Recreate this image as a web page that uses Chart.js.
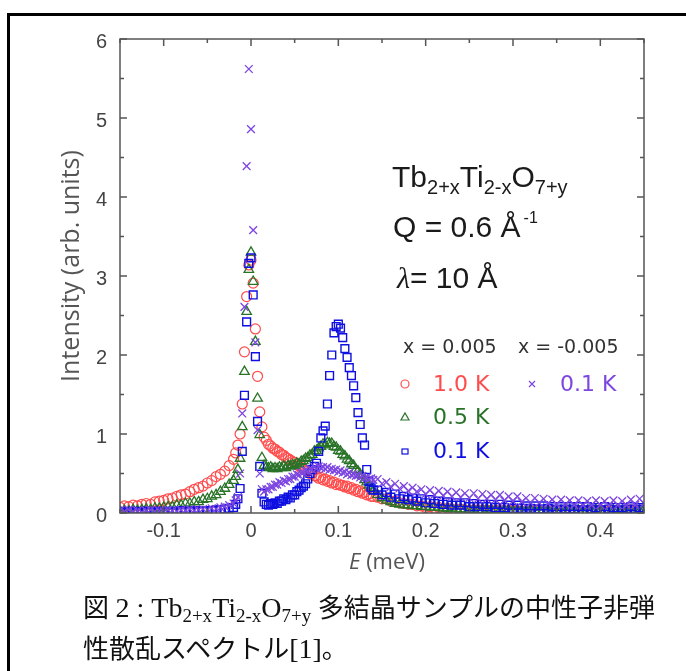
<!DOCTYPE html>
<html>
<head>
<meta charset="utf-8">
<script src="https://cdn.jsdelivr.net/npm/chart.js@4.4.0/dist/chart.umd.min.js"></script>
<style>
  html, body { margin: 0; padding: 0; background: #fff; }
  body { width: 686px; height: 671px; position: relative; overflow: hidden; }
  #frame { position: absolute; left: 7px; top: 13px; width: 760px; height: 760px;
           border-left: 3px solid #000; border-top: 3px solid #000; }
  #wrap { position: absolute; left: 0; top: 0; width: 686px; height: 600px; }
  #cap { position: absolute; left: 83px; top: 588px; color: #111;
         font: 26px/40px "Liberation Serif", "Noto Sans CJK JP", serif; white-space: nowrap; }
  #cap .lat { font-size: 28px; }
  #cap sub { font-size: 19px; line-height: 0; vertical-align: -5px; }
</style>
</head>
<body>
<div id="frame"></div>
<div id="wrap"><canvas id="myChart" width="686" height="600"></canvas></div>
<div id="cap">図 <span class="lat">2 : Tb<sub>2+x</sub>Ti<sub>2-x</sub>O<sub>7+y</sub></span> 多結晶サンプルの中性子非弾<br>性散乱スペクトル<span class="lat">[1]</span>。</div>
<script>
// energy transfer (meV)
const E = [
  -0.15, -0.145, -0.14, -0.135, -0.13, -0.125, -0.12, -0.115, -0.11, -0.105,
  -0.1, -0.095, -0.09, -0.085, -0.08, -0.075, -0.07, -0.065, -0.06, -0.055,
  -0.05, -0.045, -0.04, -0.035, -0.03, -0.025,
  -0.02, -0.0175, -0.015, -0.0125, -0.01, -0.0075, -0.005, -0.0025, 0, 0.0025,
  0.005, 0.0075, 0.01, 0.0125, 0.015, 0.0175, 0.02, 0.0225, 0.025, 0.0275,
  0.03, 0.0325, 0.035, 0.0375, 0.04, 0.0425, 0.045, 0.0475, 0.05, 0.0525,
  0.055, 0.0575, 0.06, 0.0625, 0.065, 0.0675, 0.07, 0.0725, 0.075, 0.0775,
  0.08, 0.0825, 0.085, 0.0875, 0.09, 0.0925, 0.095, 0.0975, 0.1, 0.1025,
  0.105, 0.1075, 0.11, 0.1125, 0.115, 0.1175, 0.12, 0.1225, 0.125, 0.1275,
  0.13, 0.1325, 0.135, 0.1375, 0.14,
  0.145, 0.15, 0.155, 0.16, 0.165, 0.17, 0.175, 0.18, 0.185, 0.19,
  0.195, 0.2, 0.205, 0.21, 0.215, 0.22, 0.225, 0.23, 0.235, 0.24,
  0.245, 0.25, 0.255, 0.26, 0.265, 0.27, 0.275, 0.28, 0.285, 0.29,
  0.295, 0.3, 0.305, 0.31, 0.315, 0.32, 0.325, 0.33, 0.335, 0.34,
  0.345, 0.35, 0.355, 0.36, 0.365, 0.37, 0.375, 0.38, 0.385, 0.39,
  0.395, 0.4, 0.405, 0.41, 0.415, 0.42, 0.425, 0.43, 0.435, 0.44,
  0.445, 0.45
];

// x = 0.005, 1.0 K
const red10K = [
  0.07, 0.09, 0.08, 0.10, 0.09, 0.11, 0.12, 0.11, 0.14, 0.15,
  0.16, 0.18, 0.19, 0.21, 0.23, 0.24, 0.27, 0.30, 0.32, 0.34,
  0.38, 0.41, 0.46, 0.49, 0.53, 0.60,
  0.68, 0.76, 0.86, 1.00, 1.38, 2.04, 2.74, 3.14, 3.20, 2.91,
  2.33, 1.73, 1.28, 1.09, 0.96, 0.92, 0.87, 0.85, 0.82, 0.81,
  0.78, 0.77, 0.74, 0.73, 0.70, 0.69, 0.67, 0.65, 0.64, 0.61,
  0.60, 0.57, 0.56, 0.54, 0.53, 0.50, 0.50, 0.47, 0.47, 0.44,
  0.45, 0.42, 0.43, 0.40, 0.41, 0.38, 0.39, 0.36, 0.37, 0.35,
  0.35, 0.33, 0.34, 0.31, 0.32, 0.29, 0.30, 0.27, 0.28, 0.25,
  0.26, 0.23, 0.24, 0.21, 0.21,
  0.20, 0.18, 0.18, 0.15, 0.15, 0.13, 0.12, 0.11, 0.11, 0.09,
  0.09, 0.07, 0.08, 0.06, 0.07, 0.05, 0.06, 0.05, 0.04, 0.05,
  0.04, 0.03, 0.04, 0.04, 0.03, 0.04, 0.03, 0.03, 0.04, 0.03,
  0.03, 0.04, 0.03, 0.02, 0.03, 0.03, 0.04, 0.03, 0.02, 0.03,
  0.03, 0.02, 0.03, 0.04, 0.03, 0.02, 0.03, 0.03, 0.02, 0.03,
  0.03, 0.04, 0.03, 0.02, 0.03, 0.03, 0.02, 0.03, 0.04, 0.03,
  0.03, 0.04
];

// x = 0.005, 0.5 K
const green05K = [
  0.02, 0.03, 0.02, 0.04, 0.03, 0.04, 0.05, 0.04, 0.06, 0.06,
  0.07, 0.08, 0.08, 0.10, 0.10, 0.12, 0.12, 0.14, 0.14, 0.17,
  0.18, 0.21, 0.23, 0.27, 0.31, 0.36,
  0.41, 0.46, 0.55, 0.69, 1.09, 1.79, 2.55, 3.08, 3.30, 2.93,
  2.17, 1.45, 0.99, 0.70, 0.60, 0.58, 0.57, 0.58, 0.56, 0.57,
  0.56, 0.58, 0.57, 0.59, 0.57, 0.60, 0.59, 0.61, 0.60, 0.63,
  0.62, 0.65, 0.66, 0.69, 0.70, 0.73, 0.74, 0.78, 0.79, 0.82,
  0.84, 0.87, 0.86, 0.89, 0.88, 0.88, 0.84, 0.83, 0.79, 0.78,
  0.74, 0.72, 0.68, 0.66, 0.62, 0.60, 0.55, 0.53, 0.49, 0.47,
  0.42, 0.39, 0.35, 0.32, 0.28,
  0.23, 0.19, 0.16, 0.14, 0.12, 0.11, 0.10, 0.10, 0.09, 0.09,
  0.08, 0.08, 0.07, 0.07, 0.07, 0.06, 0.06, 0.06, 0.05, 0.05,
  0.05, 0.04, 0.05, 0.04, 0.04, 0.05, 0.04, 0.04, 0.03, 0.04,
  0.04, 0.03, 0.04, 0.03, 0.03, 0.04, 0.03, 0.03, 0.04, 0.03,
  0.03, 0.02, 0.03, 0.03, 0.04, 0.03, 0.03, 0.02, 0.03, 0.03,
  0.04, 0.03, 0.02, 0.03, 0.03, 0.04, 0.03, 0.03, 0.02, 0.03,
  0.03, 0.04
];

// x = 0.005, 0.1 K
const blue01K = [
  0.02, 0.01, 0.02, 0.02, 0.01, 0.02, 0.02, 0.01, 0.02, 0.02,
  0.02, 0.01, 0.02, 0.02, 0.03, 0.02, 0.02, 0.03, 0.02, 0.03,
  0.03, 0.03, 0.04, 0.04, 0.05, 0.06,
  0.07, 0.11, 0.18, 0.31, 0.78, 1.49, 2.42, 3.16, 3.23, 2.76,
  1.98, 1.16, 0.59, 0.25, 0.14, 0.11, 0.10, 0.12, 0.11, 0.13,
  0.12, 0.15, 0.15, 0.18, 0.17, 0.20, 0.19, 0.23, 0.23, 0.27,
  0.29, 0.32, 0.34, 0.37, 0.43, 0.50, 0.55, 0.59, 0.63, 0.78,
  0.95, 1.04, 1.10, 1.38, 1.74, 2.00, 2.28, 2.36, 2.39, 2.34,
  2.22, 2.08, 1.97, 1.84, 1.74, 1.61, 1.46, 1.27, 1.12, 0.95,
  0.86, 0.55, 0.40, 0.32, 0.29,
  0.29, 0.23, 0.26, 0.20, 0.24, 0.18, 0.21, 0.17, 0.19, 0.15,
  0.18, 0.13, 0.17, 0.12, 0.15, 0.11, 0.14, 0.10, 0.13, 0.10,
  0.13, 0.08, 0.12, 0.08, 0.11, 0.08, 0.11, 0.07, 0.11, 0.07,
  0.10, 0.06, 0.10, 0.06, 0.09, 0.06, 0.09, 0.05, 0.09, 0.06,
  0.08, 0.05, 0.08, 0.05, 0.08, 0.05, 0.08, 0.04, 0.08, 0.05,
  0.07, 0.04, 0.08, 0.05, 0.07, 0.04, 0.07, 0.05, 0.08, 0.05,
  0.07, 0.05
];

// x = -0.005, 0.1 K
const purple01K = [
  0.03, 0.02, 0.04, 0.02, 0.03, 0.01, 0.03, 0.04, 0.02, 0.03,
  0.02, 0.04, 0.03, 0.02, 0.04, 0.03, 0.05, 0.03, 0.04, 0.05,
  0.04, 0.06, 0.05, 0.07, 0.08, 0.10,
  0.12, 0.16, 0.20, 0.50, 1.26, 2.61, 4.39, 5.62, 4.86, 3.58,
  2.16, 1.05, 0.50, 0.30, 0.27, 0.30, 0.30, 0.33, 0.33, 0.36,
  0.36, 0.39, 0.38, 0.41, 0.40, 0.43, 0.43, 0.46, 0.46, 0.49,
  0.48, 0.51, 0.51, 0.54, 0.53, 0.56, 0.55, 0.58, 0.56, 0.59,
  0.57, 0.58, 0.56, 0.58, 0.55, 0.56, 0.54, 0.55, 0.52, 0.54,
  0.51, 0.52, 0.49, 0.51, 0.48, 0.49, 0.47, 0.48, 0.45, 0.47,
  0.44, 0.45, 0.43, 0.44, 0.42,
  0.43, 0.37, 0.39, 0.33, 0.37, 0.31, 0.34, 0.28, 0.32, 0.27,
  0.30, 0.24, 0.29, 0.23, 0.28, 0.22, 0.27, 0.21, 0.26, 0.20,
  0.25, 0.19, 0.25, 0.18, 0.24, 0.18, 0.23, 0.17, 0.23, 0.16,
  0.21, 0.15, 0.21, 0.14, 0.19, 0.13, 0.19, 0.13, 0.18, 0.12,
  0.17, 0.11, 0.17, 0.11, 0.16, 0.10, 0.16, 0.10, 0.15, 0.10,
  0.16, 0.10, 0.15, 0.09, 0.16, 0.10, 0.15, 0.10, 0.17, 0.10,
  0.18, 0.12
];

const xTicks = [-0.1, 0, 0.1, 0.2, 0.3, 0.4];
const xMinorTicks = [-0.15, -0.05, 0.05, 0.15, 0.25, 0.35, 0.45];
const yTicks = [0, 1, 2, 3, 4, 5, 6];
const yMinorTicks = [0.5, 1.5, 2.5, 3.5, 4.5, 5.5];

const C_RED = 'rgb(255,75,75)', C_GREEN = 'rgb(40,115,40)',
      C_BLUE = 'rgb(15,15,225)', C_PURPLE = 'rgb(125,70,225)';

function pts(vals) { return E.map((e, i) => ({ x: e, y: vals[i] })); }

// frame with inward ticks on all four sides
const frameTicks = {
  id: 'frameTicks',
  afterDatasetsDraw(chart) {
    const { ctx, chartArea: a, scales: { x, y } } = chart;
    ctx.save();
    ctx.strokeStyle = '#555';
    ctx.lineWidth = 1.5;
    ctx.strokeRect(a.left, a.top, a.right - a.left, a.bottom - a.top);
    ctx.beginPath();
    const xt = (v, len) => {
      const p = x.getPixelForValue(v);
      ctx.moveTo(p, a.bottom); ctx.lineTo(p, a.bottom - len);
      ctx.moveTo(p, a.top); ctx.lineTo(p, a.top + len);
    };
    const yt = (v, len) => {
      const p = y.getPixelForValue(v);
      ctx.moveTo(a.left, p); ctx.lineTo(a.left + len, p);
      ctx.moveTo(a.right, p); ctx.lineTo(a.right - len, p);
    };
    xTicks.forEach(v => xt(v, 7));
    xMinorTicks.forEach(v => xt(v, 4));
    yTicks.forEach(v => yt(v, 7));
    yMinorTicks.forEach(v => yt(v, 4));
    ctx.stroke();
    ctx.restore();
  }
};

// axis titles, sample text and the hand-made legend
const notes = {
  id: 'notes',
  afterDraw(chart) {
    const ctx = chart.ctx;
    ctx.save();
    const run = (parts, x0, base) => {
      let x = x0;
      parts.forEach(([t, font, dy]) => {
        ctx.font = font;
        ctx.fillText(t, x, base + dy);
        x += ctx.measureText(t).width;
      });
      return x;
    };

    // axis titles
    ctx.fillStyle = '#555';
    ctx.textBaseline = 'middle';
    ctx.save();
    ctx.translate(72, 266);
    ctx.rotate(-Math.PI / 2);
    ctx.textAlign = 'center';
    ctx.font = '25px "Open Sans"';
    ctx.fillText('Intensity (arb. units)', 0, 0);
    ctx.restore();
    ctx.textAlign = 'left';
    ctx.font = 'italic 22px "Open Sans"';
    const wE = ctx.measureText('E').width;
    ctx.font = '22px "Open Sans"';
    const wR = ctx.measureText(' (meV)').width;
    run([['E', 'italic 22px "Open Sans"', 0], [' (meV)', '22px "Open Sans"', 0]],
        387 - (wE + wR) / 2, 563);

    // sample info
    ctx.fillStyle = '#1a1a1a';
    ctx.textBaseline = 'alphabetic';
    const big = '30px "Liberation Sans"', small = '20px "Liberation Sans"';
    run([['Tb', big, 0], ['2+x', small, 7], ['Ti', big, 0], ['2-x', small, 7],
         ['O', big, 0], ['7+y', small, 7]], 392, 187);
    const qEnd = run([['Q = 0.6 Å', big, 0]], 393, 237);
    run([['-1', '16px "Liberation Sans"', 0]], qEnd + 3, 223);
    run([['λ', 'italic 30px "Liberation Serif"', 0], ['= 10 Å', big, 0]], 397, 288);

    // legend
    ctx.textBaseline = 'middle';
    ctx.font = '19px "DejaVu Sans"';
    ctx.fillStyle = '#333';
    ctx.fillText('x = 0.005', 403, 348);
    ctx.fillText('x = -0.005', 518, 348);
    ctx.font = '22px "DejaVu Sans"';
    ctx.fillStyle = C_RED;    ctx.fillText('1.0 K', 433, 385);
    ctx.fillStyle = C_GREEN;  ctx.fillText('0.5 K', 433, 418);
    ctx.fillStyle = C_BLUE;   ctx.fillText('0.1 K', 433, 452);
    ctx.fillStyle = C_PURPLE; ctx.fillText('0.1 K', 560, 385);

    ctx.lineWidth = 1.2;
    ctx.strokeStyle = C_RED;
    ctx.beginPath(); ctx.arc(405, 384, 4, 0, Math.PI * 2); ctx.stroke();
    ctx.strokeStyle = C_GREEN;
    ctx.beginPath(); ctx.moveTo(401, 420); ctx.lineTo(409, 420); ctx.lineTo(405, 413); ctx.closePath(); ctx.stroke();
    ctx.strokeStyle = C_BLUE;
    ctx.strokeRect(402, 449, 6, 5);
    ctx.strokeStyle = C_PURPLE;
    ctx.beginPath(); ctx.moveTo(529, 381); ctx.lineTo(535, 387); ctx.moveTo(535, 381); ctx.lineTo(529, 387); ctx.stroke();
    ctx.restore();
  }
};

const tickFont = { family: '"Liberation Sans"', size: 20 };

new Chart(document.getElementById('myChart').getContext('2d'), {
  type: 'scatter',
  data: {
    datasets: [
      { label: 'x=-0.005 0.1 K', data: pts(purple01K), pointStyle: 'crossRot', pointRadius: 5.5,
        borderColor: C_PURPLE, backgroundColor: 'rgba(0,0,0,0)', pointBorderWidth: 1.3 },
      { label: 'x=0.005 0.1 K', data: pts(blue01K), pointStyle: 'rect', pointRadius: 5.5,
        borderColor: C_BLUE, backgroundColor: 'rgba(0,0,0,0)', pointBorderWidth: 1.4 },
      { label: 'x=0.005 0.5 K', data: pts(green05K), pointStyle: 'triangle', pointRadius: 5.5,
        borderColor: C_GREEN, backgroundColor: 'rgba(0,0,0,0)', pointBorderWidth: 1.3 },
      { label: 'x=0.005 1.0 K', data: pts(red10K), pointStyle: 'circle', pointRadius: 5,
        borderColor: C_RED, backgroundColor: 'rgba(0,0,0,0)', pointBorderWidth: 1.2 }
    ]
  },
  options: {
    responsive: false,
    animation: false,
    layout: { padding: { left: 0, top: 39, right: 42, bottom: 0 } },
    plugins: { legend: { display: false }, tooltip: { enabled: false } },
    scales: {
      x: {
        type: 'linear', min: -0.15, max: 0.45,
        afterBuildTicks: s => { s.ticks = xTicks.map(v => ({ value: v })); },
        afterFit: s => { s.height = 87; },
        grid: { display: false, drawTicks: false },
        border: { display: false },
        ticks: { font: tickFont, color: '#444', padding: 6, maxRotation: 0,
                 callback: v => String(Math.round(v * 10) / 10) }
      },
      y: {
        type: 'linear', min: 0, max: 6,
        afterBuildTicks: s => { s.ticks = yTicks.map(v => ({ value: v })); },
        afterFit: s => { s.width = 120; },
        grid: { display: false, drawTicks: false },
        border: { display: false },
        ticks: { font: tickFont, color: '#444', padding: 13, labelOffset: 3 }
      }
    }
  },
  plugins: [frameTicks, notes]
});
</script>
</body>
</html>
